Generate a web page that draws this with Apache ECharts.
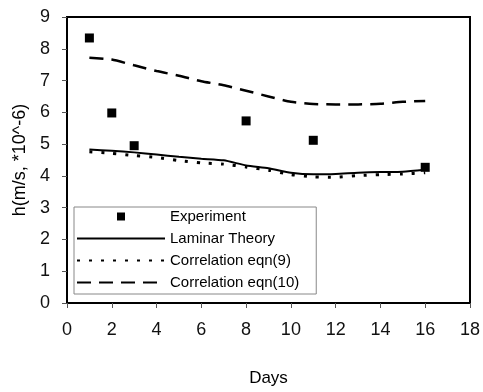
<!DOCTYPE html>
<html lang="en">
<head>
    <meta charset="UTF-8">
    <title>h vs Days</title>
    <style>
        html, body { margin: 0; padding: 0; background: #fff; }
    </style>
</head>
<body>
<div id="main" style="width: 483px;height:392px;"></div>

<script src="https://cdn.jsdelivr.net/npm/echarts@6/dist/echarts.min.js"></script>
<script>
    // measured days / values
    var expDays = [1, 2, 3, 8, 11, 16];
    var expVals = [8.34, 5.98, 4.95, 5.73, 5.12, 4.27];

    var modelDays = [1, 2, 3, 4, 5, 6, 7, 8, 9, 10, 11, 12, 13, 14, 15, 16];
    var laminar = [4.83, 4.79, 4.74, 4.67, 4.6, 4.54, 4.49, 4.33, 4.24, 4.1, 4.05, 4.06, 4.1, 4.12, 4.13, 4.19];
    var eqn9 = [4.76, 4.71, 4.64, 4.58, 4.48, 4.41, 4.37, 4.28, 4.18, 4.04, 3.97, 3.96, 4.01, 4.04, 4.06, 4.1];
    var eqn10 = [7.72, 7.66, 7.48, 7.3, 7.15, 6.98, 6.85, 6.68, 6.5, 6.33, 6.26, 6.25, 6.25, 6.27, 6.33, 6.36];

    function pairs(xs, ys) {
        return xs.map(function (x, i) { return [x, ys[i]]; });
    }

    var chartDom = document.getElementById('main');
    var myChart = echarts.init(chartDom);
    var font = 'Liberation Sans, Arial, sans-serif';
    var option;

    // hide the circle ECharts puts in the middle of line legend icons
    var noDot = { opacity: 0 };

    option = {
        animation: false,
        grid: {
            left: 67,
            right: 12,
            top: 17,
            bottom: 86,
            show: true,
            borderColor: '#000',
            borderWidth: 2
        },
        legend: {
            orient: 'vertical',
            left: 74,
            top: 207,
            padding: [2, 17, 4, 2],
            itemWidth: 88,
            itemHeight: 10,
            itemGap: 7,
            backgroundColor: '#fff',
            borderColor: '#888',
            borderWidth: 1,
            textStyle: { fontFamily: font, fontSize: 15, color: '#000' },
            data: [
                'Experiment',
                { name: 'Laminar Theory', itemStyle: noDot },
                { name: 'Correlation eqn(9)', itemStyle: noDot },
                { name: 'Correlation eqn(10)', itemStyle: noDot }
            ]
        },
        xAxis: {
            type: 'value',
            min: 0,
            max: 18,
            interval: 2,
            name: 'Days',
            nameLocation: 'middle',
            nameGap: 67,
            nameTextStyle: { fontFamily: font, fontSize: 17, color: '#000' },
            axisLine: { lineStyle: { color: '#000', width: 2 } },
            axisTick: { length: 5, lineStyle: { color: '#555' } },
            axisLabel: { fontFamily: font, fontSize: 18, color: '#111', margin: 18 },
            splitLine: { show: false }
        },
        yAxis: {
            type: 'value',
            min: 0,
            max: 9,
            interval: 1,
            name: 'h(m/s, *10^-6)',
            nameLocation: 'middle',
            nameGap: 37,
            nameTextStyle: { fontFamily: font, fontSize: 18, color: '#000' },
            axisLine: { show: true, lineStyle: { color: '#000', width: 2 } },
            axisTick: { show: true, length: 5, lineStyle: { color: '#555' } },
            axisLabel: { fontFamily: font, fontSize: 18, color: '#111', margin: 17 },
            splitLine: { show: false }
        },
        series: [
            {
                name: 'Experiment',
                type: 'line',
                data: pairs(expDays, expVals),
                symbol: 'rect',
                symbolSize: 9,
                showSymbol: true,
                lineStyle: { opacity: 0, width: 0 },
                itemStyle: { color: '#000' },
                z: 5
            },
            {
                name: 'Laminar Theory',
                type: 'line',
                data: pairs(modelDays, laminar),
                symbol: 'none',
                smooth: 0.2,
                lineStyle: { color: '#000', width: 2, type: 'solid' },
                itemStyle: { color: '#000' }
            },
            {
                name: 'Correlation eqn(9)',
                type: 'line',
                data: pairs(modelDays, eqn9),
                symbol: 'none',
                smooth: 0.2,
                lineStyle: { color: '#000', width: 3, type: [3, 9] },
                itemStyle: { color: '#000' }
            },
            {
                name: 'Correlation eqn(10)',
                type: 'line',
                data: pairs(modelDays, eqn10),
                symbol: 'none',
                smooth: 0.2,
                lineStyle: { color: '#000', width: 2.5, type: [14, 8] },
                itemStyle: { color: '#000' }
            }
        ]
    };

    option && myChart.setOption(option);
</script>
</body>
</html>
